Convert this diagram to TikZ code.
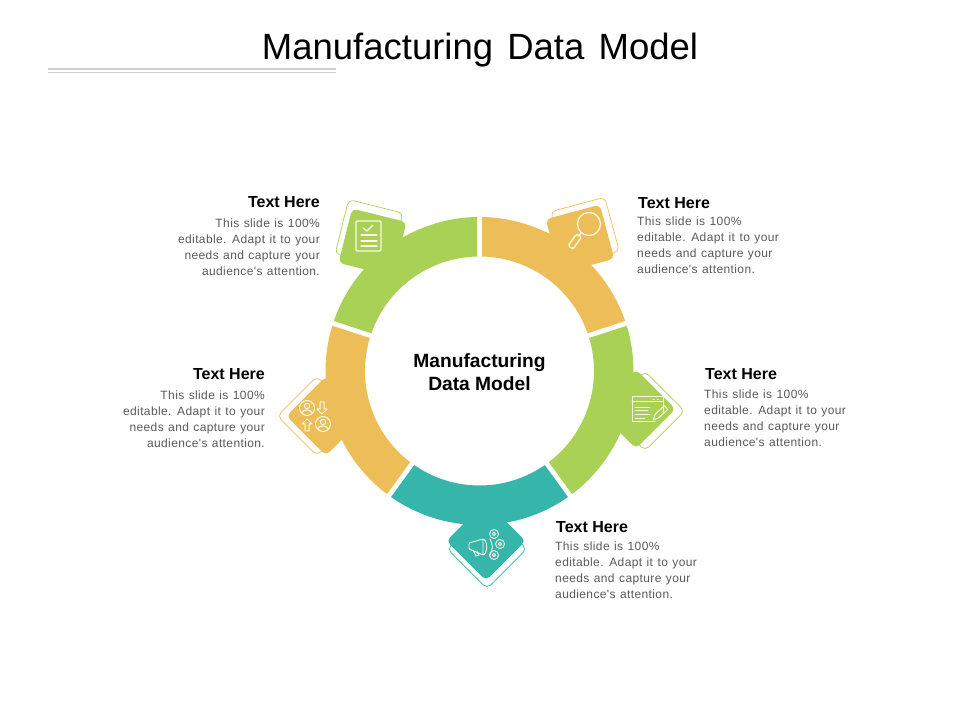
\documentclass[tikz,border=0pt]{standalone}
\usepackage{fontspec}
\setmainfont{Liberation Sans}
\newfontfamily\bodyfont[WordSpace=1.2,LetterSpace=3.2]{Liberation Sans}
\newfontfamily\titlefont[WordSpace=1.4]{Liberation Sans}
\usetikzlibrary{positioning}
\definecolor{segorange}{HTML}{EDBE57}
\definecolor{seggreen}{HTML}{A8D156}
\definecolor{segteal}{HTML}{36B5AA}
\definecolor{iconpale}{HTML}{FBF8E6}
\definecolor{bodygrey}{HTML}{595959}
\definecolor{rulegrey}{HTML}{D2D2D2}
% one ring piece: start angle, end angle, colour
\newcommand{\ringseg}[3]{
    \fill[#3] ({#1+0.93}:154) arc[start angle=#1+0.93, end angle=#2-0.93, radius=154]
        -- ({#2-1.25}:114.5) arc[start angle=#2-1.25, end angle=#1+1.25, radius=114.5] -- cycle;
}
\begin{document}
\begin{tikzpicture}[x=1pt,y=1pt,
    iconbox/.style={minimum size=56pt,inner sep=0pt,rounded corners=5pt},
    iconframe/.style={iconbox,draw,line width=0.7pt},
    iconline/.style={draw=iconpale,line width=1.3pt,line join=round,line cap=round},
    headtext/.style={font=\fontsize{16}{18}\selectfont\bfseries,text=black,inner sep=0pt},
    bodyright/.style={font=\fontsize{12}{16}\bodyfont,text=bodygrey,inner sep=0pt,align=left},
    bodyleft/.style={font=\fontsize{12}{16}\bodyfont,text=bodygrey,inner sep=0pt,align=right}]
    \useasboundingbox (0,0) rectangle (960,720);

    \node[font=\fontsize{36.5}{40}\titlefont,inner sep=0pt] (title) at (480,670) {Manufacturing Data Model};
    \draw[rulegrey,line width=1.6pt] (48,651) -- (336,651);
    \draw[rulegrey,line width=1.6pt] (48,647.3) -- (336,647.3);

    % frames behind the boxes
    \node[iconframe,draw=seggreen,rotate=-14] (frameA) at (369,486.5) {};
    \node[iconframe,draw=segorange,rotate=15] (frameB) at (585,488.5) {};
    \node[iconframe,draw=seggreen,rotate=45] (frameC) at (645,309) {};
    \node[iconframe,draw=segteal,rotate=45] (frameD) at (487,171) {};
    \node[iconframe,draw=segorange,rotate=45] (frameE) at (317,304) {};

    % ring
    \begin{scope}[shift={(479.5,349)}]
        \ringseg{18}{90}{segorange}
        \ringseg{-54}{18}{seggreen}
        \ringseg{-126}{-54}{segteal}
        \ringseg{-198}{-126}{segorange}
        \ringseg{90}{162}{seggreen}
    \end{scope}

    \node[iconbox,fill=seggreen,rotate=-14] (boxA) at (372.5,477.5) {};
    \node[iconbox,fill=segorange,rotate=15] (boxB) at (580,481) {};
    \node[iconbox,fill=seggreen,rotate=45] (boxC) at (636,311) {};
    \node[iconbox,fill=segteal,rotate=45] (boxD) at (486,179) {};
    \node[iconbox,fill=segorange,rotate=45] (boxE) at (326,304) {};

    % clipboard
    \draw[iconline,rounded corners=1pt] (356,469) rectangle (381,499);
    \draw[iconline] (363,492) -- (367,489) -- (373,495);
    \draw[iconline] (361,485) -- (377,485) (361,479) -- (377,479) (361,474) -- (377,474);

    % magnifier
    \draw[iconline] (589,496) circle[radius=11.5];
    \draw[iconline] (581,487) -- (578.5,484);
    \draw[iconline,rounded corners=2.2pt] (581.5,483) -- (576.5,486) -- (568,474.2) -- (573,470.9) -- cycle;

    % window and pencil
    \draw[iconline,line width=1pt] (655,298) -| (632,323) -| (663,308);
    \draw[iconline,line width=1pt] (632,318) -- (663,318);
    \draw[iconline,line width=1pt] (653,320.7) -- (654,320.7) (657,320.7) -- (658,320.7);
    \draw[iconline,line width=0.8pt] (635,313) -- (650,313) (635,310) -- (648,310) (635,306) -- (650,306) (635,302) -- (645,302);
    \draw[iconline,line width=1pt] (653,300) -- (655.3,305.8) -- (664.3,314.3) -- (667.7,310.7) -- (658.7,302.2) -- cycle;

    % megaphone
    \draw[iconline,line width=0.9pt,rounded corners=1pt] (469,177) -- (483,181) -- (483,165) -- (469,171) -- cycle;
    \draw[iconline,line width=0.9pt] (483,181) .. controls (488,180) and (488,166) .. (483,165);
    \draw[iconline,line width=0.9pt] (473,170) -- (476,164) -- (479,165) -- (477,168.5);
    \draw[iconline,line width=0.9pt] (490,181) .. controls (493,176) and (493,170) .. (490,165);
    \draw[iconline,line width=0.9pt] (494,186) circle[radius=4.5] (494,186) circle[radius=1.8];
    \draw[iconline,line width=0.9pt] (500,176) circle[radius=4.5] (500,176) circle[radius=1.8];
    \draw[iconline,line width=0.9pt] (494,165) circle[radius=4.5] (494,165) circle[radius=1.8];

    % two people and arrows
    \draw[iconline,line width=1pt] (307,312) circle[radius=7.5] (307,314) circle[radius=2.7];
    \draw[iconline,line width=1pt] (302,307) .. controls (303,311) and (311,311) .. (312,307);
    \draw[iconline,line width=1pt] (323,296) circle[radius=7.5] (323,298) circle[radius=2.7];
    \draw[iconline,line width=1pt] (318,291) .. controls (319,295) and (327,295) .. (328,291);
    \draw[iconline,line width=1pt] (320,318) -- (324,318) -- (324,311) -- (327,311) -- (322,306) -- (317,311) -- (320,311) -- cycle;
    \draw[iconline,line width=1pt] (305,289) -- (309,289) -- (309,296) -- (312,296) -- (307,301) -- (302,296) -- (305,296) -- cycle;

    \node[font=\fontsize{19.2}{23}\selectfont\bfseries,align=center,inner sep=0pt] (centre) at (479.5,347.5) {Manufacturing\\Data Model};

    \node[headtext,anchor=east] (headA) at (320,518) {Text Here};
    \node[bodyleft,below=11pt of headA.south east,anchor=north east] (bodyA) {This slide is 100\%\\editable. Adapt it to your\\needs and capture your\\audience's attention.};
    \node[headtext,anchor=west] (headB) at (638,517) {Text Here};
    \node[bodyright,below=8pt of headB.south west,anchor=north west,xshift=-1pt] (bodyB) {This slide is 100\%\\editable. Adapt it to your\\needs and capture your\\audience's attention.};
    \node[headtext,anchor=west] (headC) at (705,346) {Text Here};
    \node[bodyright,below=10pt of headC.south west,anchor=north west,xshift=-1pt] (bodyC) {This slide is 100\%\\editable. Adapt it to your\\needs and capture your\\audience's attention.};
    \node[headtext,anchor=west] (headD) at (556,193) {Text Here};
    \node[bodyright,below=9pt of headD.south west,anchor=north west,xshift=-1pt] (bodyD) {This slide is 100\%\\editable. Adapt it to your\\needs and capture your\\audience's attention.};
    \node[headtext,anchor=east] (headE) at (265,346) {Text Here};
    \node[bodyleft,below=11pt of headE.south east,anchor=north east] (bodyE) {This slide is 100\%\\editable. Adapt it to your\\needs and capture your\\audience's attention.};
\end{tikzpicture}
\end{document}
